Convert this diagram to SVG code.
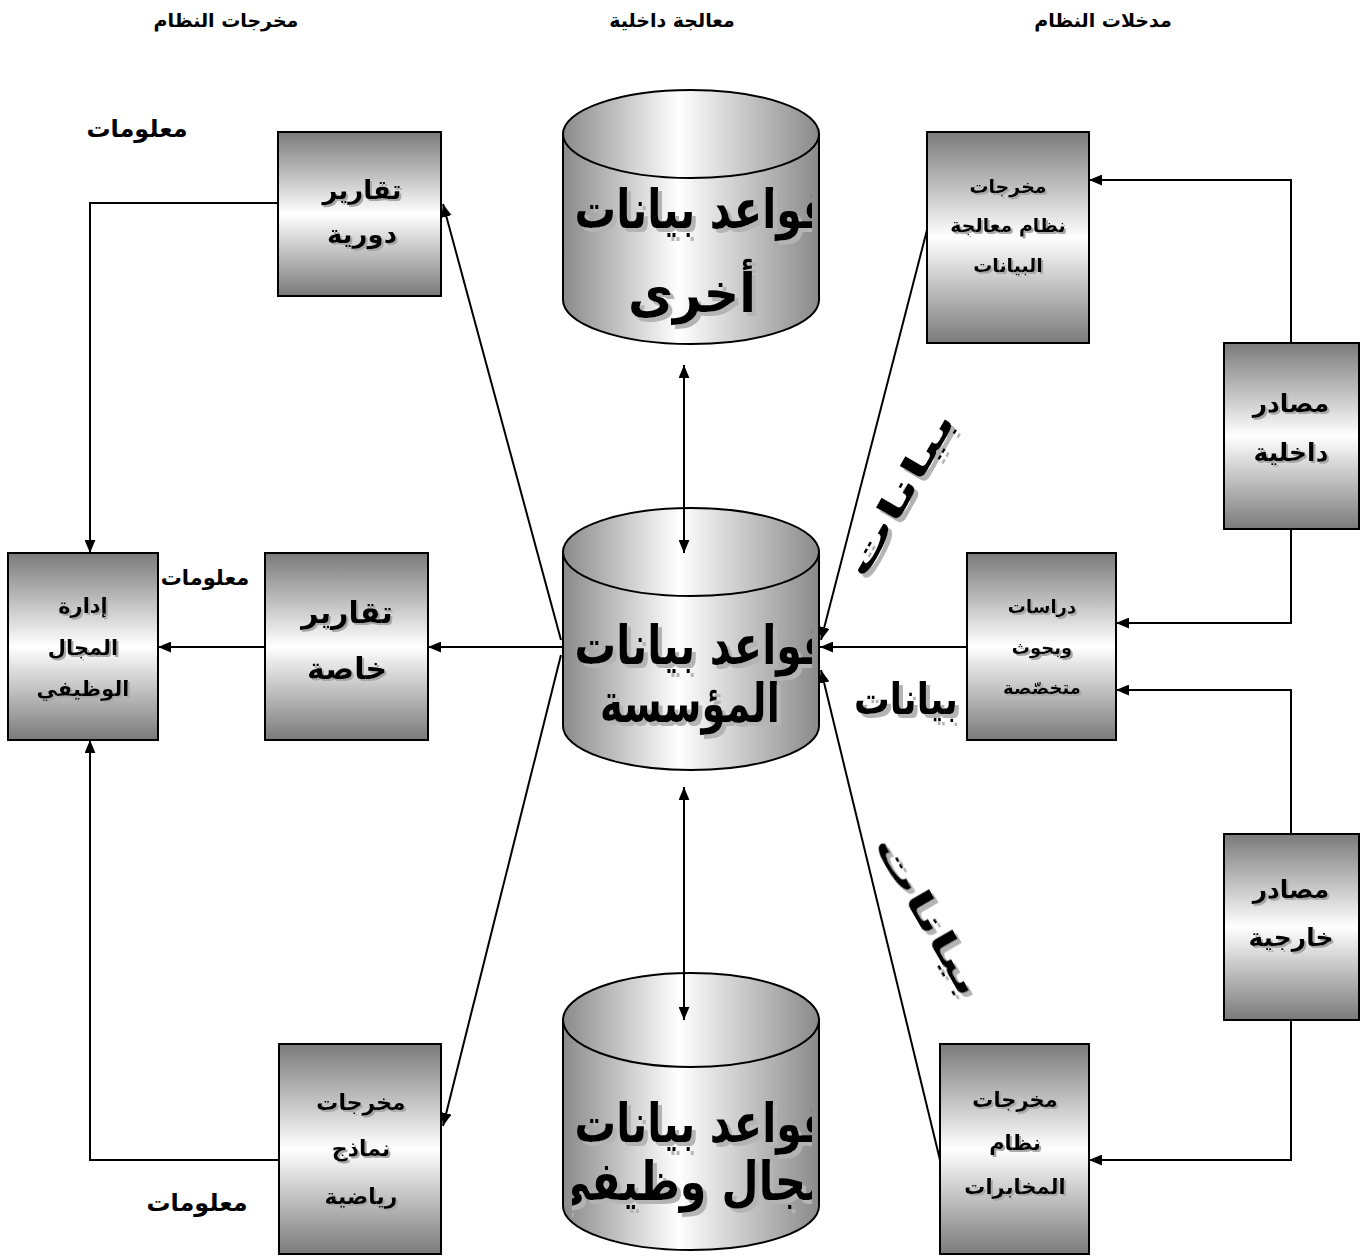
<svg xmlns="http://www.w3.org/2000/svg" width="1362" height="1258" viewBox="0 0 1362 1258">
  <defs>
    <linearGradient id="boxFill" x1="0" y1="0" x2="0" y2="1">
      <stop offset="0" stop-color="#7a7a7a"/>
      <stop offset="0.5" stop-color="#ffffff"/>
      <stop offset="1" stop-color="#7a7a7a"/>
    </linearGradient>
    <linearGradient id="cylFill" x1="0" y1="0" x2="1" y2="0">
      <stop offset="0" stop-color="#8a8a8a"/>
      <stop offset="0.45" stop-color="#ffffff"/>
      <stop offset="1" stop-color="#8a8a8a"/>
    </linearGradient>
    <filter id="shadow" x="-10%" y="-10%" width="130%" height="130%">
      <feOffset in="SourceAlpha" dx="2" dy="2" result="off"/>
      <feFlood flood-color="#a8a8a8"/>
      <feComposite in2="off" operator="in" result="sh"/>
      <feMerge><feMergeNode in="sh"/><feMergeNode in="SourceGraphic"/></feMerge>
    </filter>
    <filter id="shadowBig" x="-10%" y="-10%" width="130%" height="130%">
      <feOffset in="SourceAlpha" dx="4" dy="4" result="off"/>
      <feFlood flood-color="#b4b4b4"/>
      <feComposite in2="off" operator="in" result="sh"/>
      <feMerge><feMergeNode in="sh"/><feMergeNode in="SourceGraphic"/></feMerge>
    </filter>
    <marker id="arrow" viewBox="0 0 12 10" refX="12" refY="5" markerWidth="13" markerHeight="11" markerUnits="userSpaceOnUse" orient="auto-start-reverse">
      <path d="M0,0 L12,5 L0,10 Z" fill="#000"/>
    </marker>
    <clipPath id="cylClip"><rect x="572" y="0" width="240" height="1258"/></clipPath>
  </defs>
  <style>
    text { font-family: "DejaVu Sans", "Liberation Sans", sans-serif; font-weight: bold; fill: #000; text-anchor: middle; direction: rtl; }
    .box { fill: url(#boxFill); stroke: #000; stroke-width: 2; }
    .cyl { fill: url(#cylFill); stroke: #000; stroke-width: 2; }
    .wire { fill: none; stroke: #000; stroke-width: 2; }
    .head { font-size: 19px; }
    .info { font-size: 24px; }
    .db { font-size: 54px; }
  </style>

  <!-- column headings -->
  <g id="headings">
    <text class="head" x="226" y="27">مخرجات النظام</text>
    <text class="head" x="672" y="27">معالجة داخلية</text>
    <text class="head" x="1103" y="27">مدخلات  النظام</text>
  </g>

  <!-- labels on the output side -->
  <g id="info-labels">
    <text class="info" x="137" y="137">معلومات</text>
    <text class="info" x="205" y="585" style="font-size:21px">معلومات</text>
    <text class="info" x="197" y="1211">معلومات</text>
  </g>

  <!-- data labels on the input connectors -->
  <g id="data-labels" filter="url(#shadowBig)">
    <text x="0" y="0" style="font-size:34px" transform="translate(910,500) rotate(-60)" textLength="185" lengthAdjust="spacingAndGlyphs">بيانات</text>
    <text x="906" y="714" style="font-size:44px" textLength="104" lengthAdjust="spacingAndGlyphs">بيانات</text>
    <text x="0" y="0" style="font-size:34px" transform="translate(918,922) rotate(60)" textLength="180" lengthAdjust="spacingAndGlyphs">بيانات</text>
  </g>

  <!-- database cylinders -->
  <g id="db-other">
    <path class="cyl" d="M563,134 V300 A128,44 0 0 0 819,300 V134 Z"/>
    <ellipse class="cyl" cx="691" cy="134" rx="128" ry="44"/>
    <g clip-path="url(#cylClip)" filter="url(#shadowBig)">
      <text class="db" x="702" y="228" textLength="255" lengthAdjust="spacingAndGlyphs">قواعد بيانات</text>
      <text class="db" x="692" y="312" textLength="128" lengthAdjust="spacingAndGlyphs">أخرى</text>
    </g>
  </g>
  <g id="db-enterprise">
    <path class="cyl" d="M563,552 V726 A128,44 0 0 0 819,726 V552 Z"/>
    <ellipse class="cyl" cx="691" cy="552" rx="128" ry="44"/>
    <g clip-path="url(#cylClip)" filter="url(#shadowBig)">
      <text class="db" x="702" y="664" textLength="255" lengthAdjust="spacingAndGlyphs">قواعد بيانات</text>
      <text class="db" x="690" y="722" textLength="180" lengthAdjust="spacingAndGlyphs">المؤسسة</text>
    </g>
  </g>
  <g id="db-functional">
    <path class="cyl" d="M563,1020 V1206 A128,44 0 0 0 819,1206 V1020 Z"/>
    <ellipse class="cyl" cx="691" cy="1020" rx="128" ry="47"/>
    <g clip-path="url(#cylClip)" filter="url(#shadowBig)">
      <text class="db" x="702" y="1142" textLength="255" lengthAdjust="spacingAndGlyphs">قواعد بيانات</text>
      <text class="db" x="690" y="1200" textLength="285" lengthAdjust="spacingAndGlyphs">مجال وظيفي</text>
    </g>
  </g>

  <!-- connectors -->
  <g id="connectors" class="wire">
    <polyline class="wire" points="278,203 90,203 90,553" marker-end="url(#arrow)"/>
    <polyline class="wire" points="279,1160 90,1160 90,740" marker-end="url(#arrow)"/>
    <line class="wire" x1="265" y1="647" x2="158" y2="647" marker-end="url(#arrow)"/>
    <line class="wire" x1="563" y1="647" x2="428" y2="647" marker-end="url(#arrow)"/>
    <line class="wire" x1="561" y1="640" x2="443" y2="204" marker-end="url(#arrow)"/>
    <line class="wire" x1="561" y1="655" x2="443" y2="1126" marker-end="url(#arrow)"/>
    <line class="wire" x1="684" y1="365" x2="684" y2="553" marker-start="url(#arrow)" marker-end="url(#arrow)"/>
    <line class="wire" x1="684" y1="787" x2="684" y2="1020" marker-start="url(#arrow)" marker-end="url(#arrow)"/>
    <line class="wire" x1="927" y1="230" x2="821" y2="640" marker-end="url(#arrow)"/>
    <line class="wire" x1="967" y1="647" x2="820" y2="647" marker-end="url(#arrow)"/>
    <line class="wire" x1="940" y1="1160" x2="821" y2="670" marker-end="url(#arrow)"/>
    <polyline class="wire" points="1291,343 1291,180 1089,180" marker-end="url(#arrow)"/>
    <polyline class="wire" points="1291,529 1291,623 1116,623" marker-end="url(#arrow)"/>
    <polyline class="wire" points="1291,834 1291,690 1116,690" marker-end="url(#arrow)"/>
    <polyline class="wire" points="1291,1020 1291,1160 1089,1160" marker-end="url(#arrow)"/>
  </g>

  <!-- output boxes -->
  <g id="periodic-reports">
    <rect class="box" x="278" y="132" width="163" height="164"/>
    <g filter="url(#shadow)" style="font-size:26px">
      <text x="362" y="199">تقارير</text>
      <text x="362" y="243">دورية</text>
    </g>
  </g>
  <g id="functional-management">
    <rect class="box" x="8" y="553" width="150" height="187"/>
    <g filter="url(#shadow)" style="font-size:21px">
      <text x="83" y="613">إدارة</text>
      <text x="83" y="655">المجال</text>
      <text x="83" y="696">الوظيفي</text>
    </g>
  </g>
  <g id="special-reports">
    <rect class="box" x="265" y="553" width="163" height="187"/>
    <g filter="url(#shadow)" style="font-size:30px">
      <text x="347" y="623">تقارير</text>
      <text x="347" y="679">خاصة</text>
    </g>
  </g>
  <g id="math-models">
    <rect class="box" x="279" y="1044" width="162" height="210"/>
    <g filter="url(#shadow)" style="font-size:22px">
      <text x="361" y="1110">مخرجات</text>
      <text x="361" y="1156">نماذج</text>
      <text x="361" y="1204">رياضية</text>
    </g>
  </g>

  <!-- input boxes -->
  <g id="dp-outputs">
    <rect class="box" x="927" y="132" width="162" height="211"/>
    <g filter="url(#shadow)" style="font-size:19px">
      <text x="1008" y="193">مخرجات</text>
      <text x="1008" y="232">نظام معالجة</text>
      <text x="1008" y="272">البيانات</text>
    </g>
  </g>
  <g id="internal-sources">
    <rect class="box" x="1224" y="343" width="135" height="186"/>
    <g filter="url(#shadow)" style="font-size:25px">
      <text x="1291" y="412">مصادر</text>
      <text x="1291" y="461">داخلية</text>
    </g>
  </g>
  <g id="studies">
    <rect class="box" x="967" y="553" width="149" height="187"/>
    <g filter="url(#shadow)" style="font-size:18px">
      <text x="1042" y="613">دراسات</text>
      <text x="1042" y="654">وبحوث</text>
      <text x="1042" y="694">متخصّصة</text>
    </g>
  </g>
  <g id="external-sources">
    <rect class="box" x="1224" y="834" width="135" height="186"/>
    <g filter="url(#shadow)" style="font-size:25px">
      <text x="1291" y="898">مصادر</text>
      <text x="1291" y="946">خارجية</text>
    </g>
  </g>
  <g id="intel-outputs">
    <rect class="box" x="940" y="1044" width="149" height="210"/>
    <g filter="url(#shadow)" style="font-size:21px">
      <text x="1015" y="1107">مخرجات</text>
      <text x="1015" y="1150">نظام</text>
      <text x="1015" y="1194">المخابرات</text>
    </g>
  </g>
</svg>
